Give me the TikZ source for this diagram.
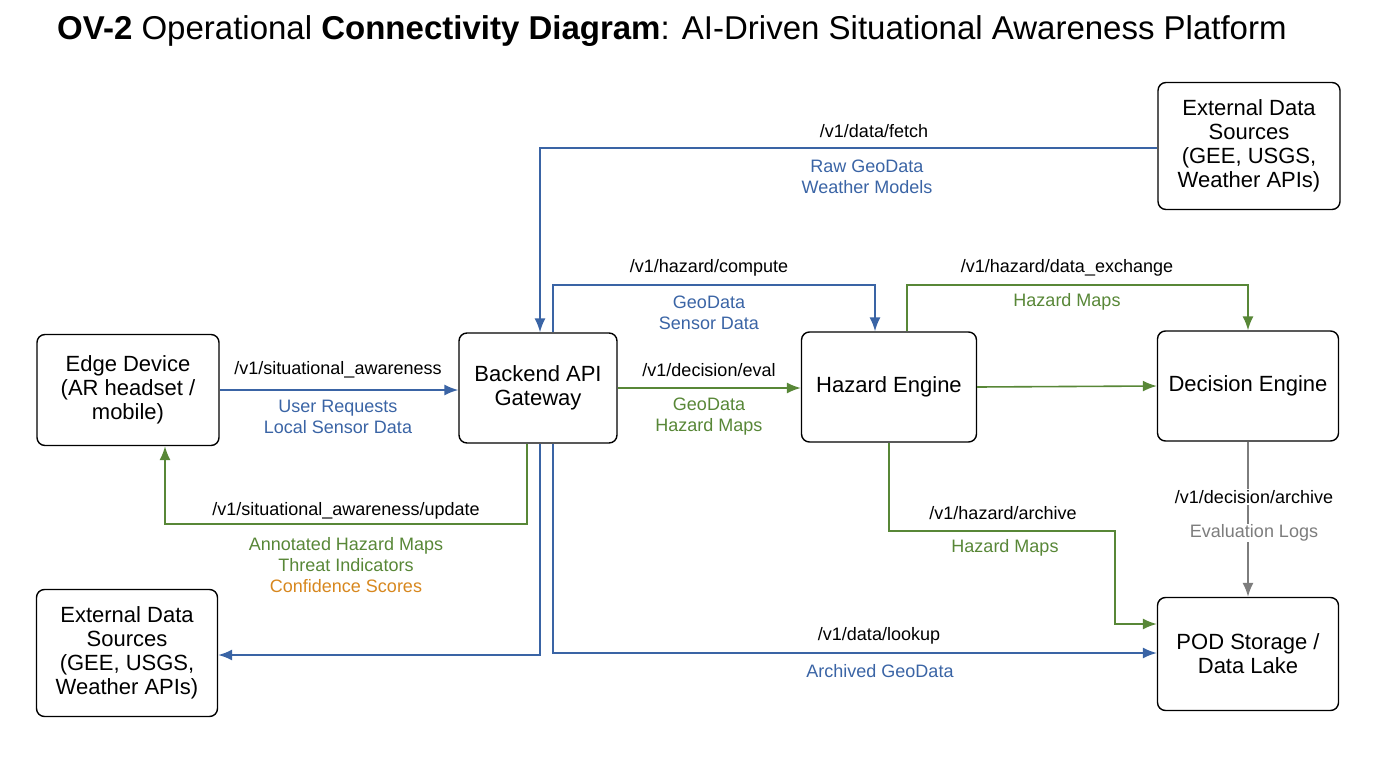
\documentclass[tikz,border=0pt]{standalone}
\usepackage{fontspec}
\setmainfont{Liberation Sans}
\usetikzlibrary{arrows.meta,positioning}
\definecolor{linkblue}{RGB}{58,100,165}
\definecolor{linkgreen}{RGB}{88,135,55}
\definecolor{linkorange}{RGB}{215,135,30}
\definecolor{linkgray}{RGB}{125,125,125}
\tikzset{
  block/.style={draw,line width=1.4pt,rounded corners=8pt,align=center,
    font=\fontsize{22}{24}\selectfont,inner sep=2pt},
  flow/.style={line width=1.6pt,-{Latex[length=14pt,width=11pt]}},
  path/.style={font=\fontsize{18}{21}\selectfont,inner sep=1pt},
  note/.style={font=\fontsize{18}{21}\selectfont,align=center,inner sep=1pt}
}
\begin{document}
\begin{tikzpicture}[x=1pt,y=-1pt]
\useasboundingbox (0,0) rectangle (1376,768);
%title
\node[anchor=west,font=\fontsize{33}{36}\selectfont,inner sep=0] (title) at (57,31)
  {\textbf{OV-2} Operational \textbf{Connectivity Diagram}: AI-Driven Situational Awareness Platform};

%draw blocks
\node[block,minimum width=182pt,minimum height=111pt] (edge) at (128,390) {Edge Device\\(AR headset /\\mobile)};
\node[block,minimum width=158pt,minimum height=110pt] (gw) at (538,388) {Backend API\\Gateway};
\node[block,minimum width=175pt,minimum height=110pt] (hz) at (889,387) {Hazard Engine};
\node[block,minimum width=181pt,minimum height=110pt] (de) at (1248,386) {Decision Engine};
\node[block,minimum width=182pt,minimum height=127pt] (extA) at (1249,146) {External Data\\Sources\\(GEE, USGS,\\Weather APIs)};
\node[block,minimum width=181pt,minimum height=127pt] (extB) at (127,653) {External Data\\Sources\\(GEE, USGS,\\Weather APIs)};
\node[block,minimum width=181pt,minimum height=113pt] (pod) at (1248,654) {POD Storage /\\Data Lake};

%draw connectors
\draw[flow,linkblue] (edge.east |- 0,390) -- (gw.west |- 0,390);
\draw[flow,linkgreen] ([xshift=-11pt]gw.south) |- (165,524) -- (edge.south -| 165,0);
\draw[flow,linkblue] (extA.west |- 0,148) -| ([xshift=2pt]gw.north);
\draw[flow,linkblue] ([xshift=15pt]gw.north) |- (875,285) -- (hz.north -| 875,0);
\draw[flow,linkgreen] (gw.east |- 0,388) -- (hz.west |- 0,388);
\draw[flow,linkgreen] (hz.east) -- (de.west);
\draw[flow,linkgreen] ([xshift=18pt]hz.north) |- (1248,285) -- (de.north);
\draw[flow,linkgreen] (hz.south) |- (1115,531) |- (pod.west |- 0,624);
\draw[flow,linkgray] (de.south) -- (pod.north);
\draw[flow,linkblue] ([xshift=2pt]gw.south) |- (extB.east |- 0,655);
\draw[flow,linkblue] ([xshift=15pt]gw.south) |- (pod.west |- 0,653);

%labels
\node[path] (l1) at (338,370) {/v1/situational\_awareness};
\node[note,text=linkblue] at (338,417) {User Requests\\Local Sensor Data};
\node[path] (l2) at (346,511) {/v1/situational\_awareness/update};
\node[note,text=linkgreen] at (346,555) {Annotated Hazard Maps\\Threat Indicators};
\node[note,text=linkorange] at (346,586) {Confidence Scores};
\node[path] (l3) at (874,131) {/v1/data/fetch};
\node[note,text=linkblue] at (867,177) {Raw GeoData\\Weather Models};
\node[path] (l4) at (709,268) {/v1/hazard/compute};
\node[note,text=linkblue] at (709,313) {GeoData\\Sensor Data};
\node[path] (l5) at (709,370) {/v1/decision/eval};
\node[note,text=linkgreen] at (709,417) {GeoData\\Hazard Maps};
\node[path] (l6) at (1067,268) {/v1/hazard/data\_exchange};
\node[note,text=linkgreen] at (1067,302) {Hazard Maps};
\node[path] (l7) at (1003,513) {/v1/hazard/archive};
\node[note,text=linkgreen] at (1005,548) {Hazard Maps};
\node[path,fill=white] (l8) at (1254,497) {/v1/decision/archive};
\node[note,text=linkgray,fill=white] at (1254,533) {Evaluation Logs};
\node[path] (l9) at (879,636) {/v1/data/lookup};
\node[note,text=linkblue] at (880,671) {Archived GeoData};
\end{tikzpicture}
\end{document}
